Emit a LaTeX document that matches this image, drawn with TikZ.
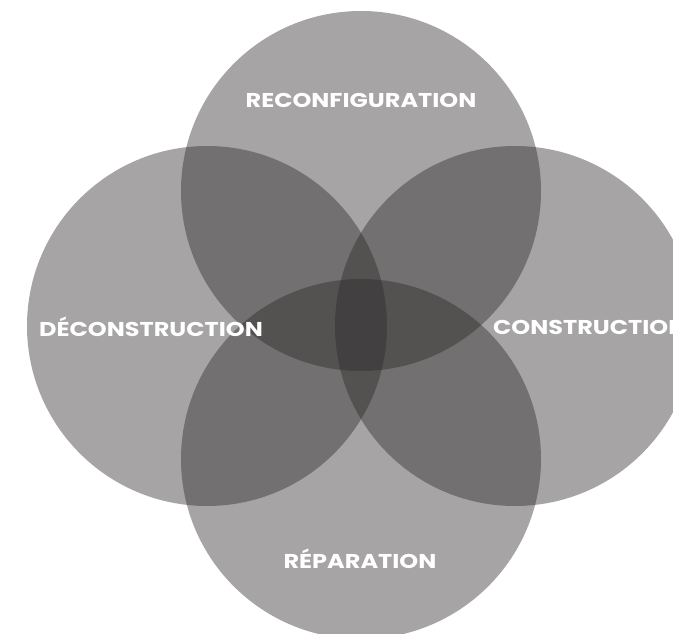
\documentclass[tikz,border=0pt]{standalone}
\usepackage{fontspec}
\newfontfamily\labelfont{Poppins}
\definecolor{ringfill}{HTML}{2A2727}
\newcommand{\widelabel}[1]{\scalebox{1.2}[1]{#1}}
\begin{document}
\begin{tikzpicture}[x=1pt, y=-1pt,
    ring/.style={circle, inner sep=0pt, minimum size=360pt, fill=ringfill, fill opacity=0.42},
    lbl/.style={text=white, font=\labelfont\bfseries\fontsize{20}{24}\selectfont}]
    \useasboundingbox (0,0) rectangle (673,634);
    \clip (0,0) rectangle (673,634);

    % Four overlapping circles
    \foreach \name/\x/\y in {reconf/361/191, decons/207/326, cons/515/326, repar/361/459} {
        \node[ring] (\name) at (\x,\y) {};
    }

    % Labels
    \node[lbl] (reconflbl) at (361,100) {\widelabel{RECONFIGURATION}};
    \node[lbl] (deconslbl) at (151,327) {\widelabel{DÉCONSTRUCTION}};
    \node[lbl, anchor=west, inner sep=0pt] (conslbl) at (493,327) {\widelabel{CONSTRUCTION}};
    \node[lbl] (reparlbl) at (360,559) {\widelabel{RÉPARATION}};
\end{tikzpicture}
\end{document}
